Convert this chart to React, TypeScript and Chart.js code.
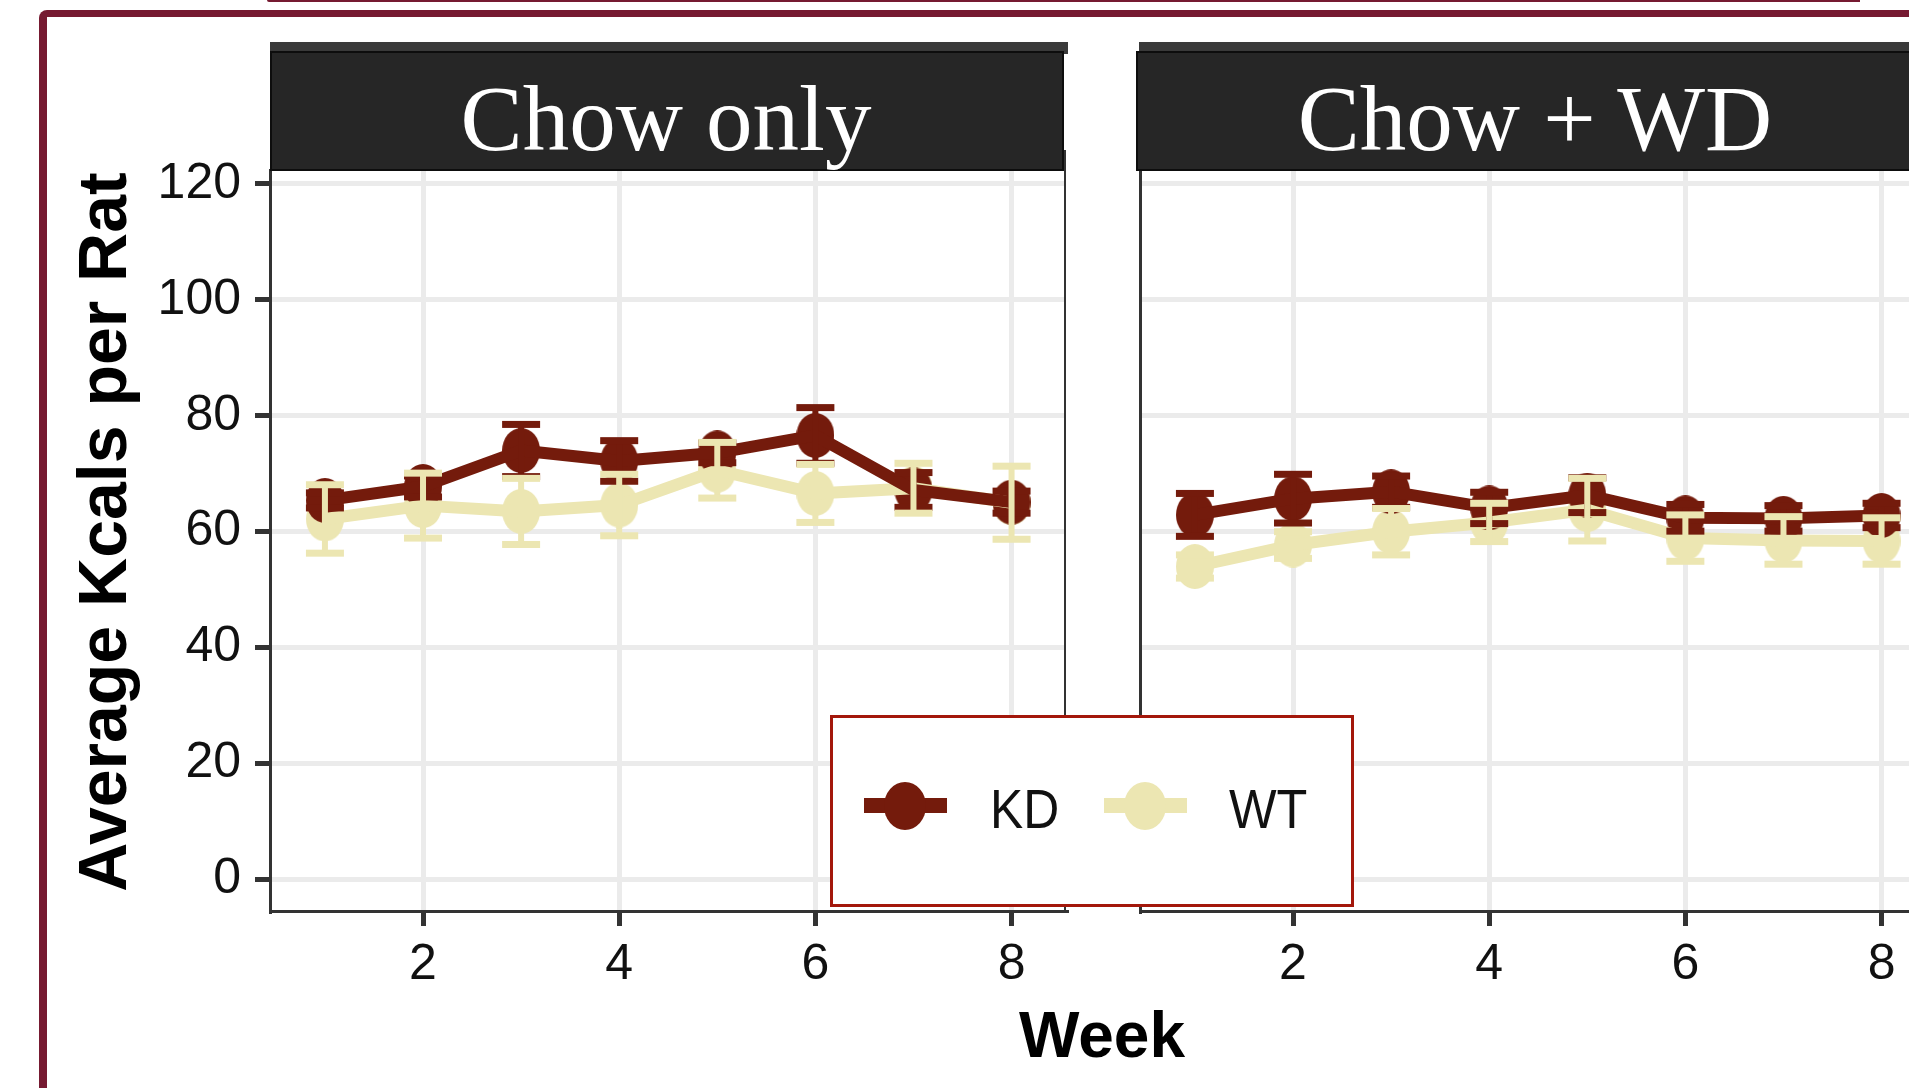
import React, { useEffect, useRef } from "react";
import { Chart, registerables } from "chart.js";

Chart.register(...registerables);

// ---------------- data ----------------
const weeks = [1, 2, 3, 4, 5, 6, 7, 8];

const chowKD = [65.4, 67.8, 74.0, 72.2, 73.6, 76.6, 67.2, 65.1];
const chowKDErr = [1.3, 1.8, 4.5, 3.5, 1.7, 4.8, 3.0, 1.9];
const chowWT = [62.2, 64.5, 63.5, 64.6, 70.6, 66.6, 67.5, 65.0];
const chowWTErr = [5.9, 5.6, 5.7, 5.3, 4.8, 5.0, 4.3, 6.3];

const wdKD = [62.9, 65.7, 66.9, 64.1, 66.3, 62.4, 62.3, 62.8];
const wdKDErr = [3.7, 4.2, 2.7, 2.7, 3.0, 2.3, 2.2, 2.1];
const wdWT = [54.0, 57.7, 60.0, 61.6, 63.8, 58.9, 58.5, 58.4];
const wdWTErr = [2.0, 2.3, 4.0, 3.3, 5.4, 4.0, 4.1, 4.0];

const yTicks = [0, 20, 40, 60, 80, 100, 120];
const xTicks = [2, 4, 6, 8];
const panelTitles = ["Chow only", "Chow + WD"];
const seriesNames = ["KD", "WT"];
const xTitle = "Week";
const yTitle = "Average Kcals per Rat";

// ---------------- styles ----------------
const KD_COLOR = "#741b0c";
const WT_COLOR = "#ece6b2";
const FRAME = "#761a31";
const SANS = '"Liberation Sans", Arial, Helvetica, sans-serif';
const SERIF = '"Liberation Serif", "Times New Roman", serif';

function ellipseCanvas(color: string, w: number, h: number) {
  const c = document.createElement("canvas");
  c.width = w;
  c.height = h;
  const ctx = c.getContext("2d")!;
  ctx.fillStyle = color;
  ctx.beginPath();
  ctx.ellipse(w / 2, h / 2, w / 2, h / 2, 0, 0, Math.PI * 2);
  ctx.fill();
  return c;
}

const errorBarPlugin = {
  id: "errorBars",
  afterDatasetsDraw(chart: any) {
    const { ctx, chartArea, scales } = chart;
    const x = scales.x;
    const y = scales.y;
    ctx.save();
    ctx.beginPath();
    ctx.rect(chartArea.left, chartArea.top, chartArea.right - chartArea.left, chartArea.bottom - chartArea.top);
    ctx.clip();
    chart.data.datasets.forEach((ds: any) => {
      if (!ds.errors) return;
      ctx.fillStyle = ds.errorColor;
      ds.data.forEach((p: any, i: number) => {
        const px = x.getPixelForValue(p.x);
        const top = y.getPixelForValue(p.y + ds.errors[i]);
        const bot = y.getPixelForValue(p.y - ds.errors[i]);
        ctx.fillRect(px - 3, top, 6, bot - top);
        ctx.fillRect(px - 19, top - 3.5, 38, 7);
        ctx.fillRect(px - 19, bot - 3.5, 38, 7);
      });
    });
    ctx.restore();
  },
};

const panelBorderPlugin = {
  id: "panelBorder",
  afterDraw(chart: any) {
    const { ctx, chartArea } = chart;
    ctx.save();
    ctx.strokeStyle = "#333333";
    ctx.lineWidth = 2;
    ctx.beginPath();
    ctx.moveTo(chartArea.right - 1, chartArea.top - 20);
    ctx.lineTo(chartArea.right - 1, chartArea.bottom);
    ctx.stroke();
    ctx.restore();
  },
};

type PanelProps = {
  left: number;
  width: number;
  padLeft: number;
  yWidth: number;
  showY: boolean;
  kd: number[];
  kdErr: number[];
  wt: number[];
  wtErr: number[];
};

const CANVAS_TOP = 130;
const CANVAS_H = 881;

function Panel(props: PanelProps) {
  const ref = useRef<HTMLCanvasElement>(null);
  useEffect(() => {
    const kdPts = weeks.map((w, i) => ({ x: w, y: props.kd[i] }));
    const wtPts = weeks.map((w, i) => ({ x: w, y: props.wt[i] }));
    const tickFont = { family: SANS, size: 50 };
    const chart = new Chart(ref.current!, {
      type: "line",
      data: {
        datasets: [
          {
            label: seriesNames[0],
            data: kdPts,
            borderColor: KD_COLOR,
            borderWidth: 12,
            pointRadius: 0,
            borderJoinStyle: "round",
            tension: 0,
          },
          {
            label: seriesNames[1],
            data: wtPts,
            borderColor: WT_COLOR,
            borderWidth: 12,
            pointRadius: 0,
            borderJoinStyle: "round",
            tension: 0,
          },
          {
            label: seriesNames[0] + " points",
            data: kdPts,
            showLine: false,
            pointStyle: ellipseCanvas(KD_COLOR, 38, 45),
            pointRadius: 20,
            backgroundColor: KD_COLOR,
            borderColor: KD_COLOR,
            errors: props.kdErr,
            errorColor: KD_COLOR,
          } as any,
          {
            label: seriesNames[1] + " points",
            data: wtPts,
            showLine: false,
            pointStyle: ellipseCanvas(WT_COLOR, 38, 45),
            pointRadius: 20,
            backgroundColor: WT_COLOR,
            borderColor: WT_COLOR,
            errors: props.wtErr,
            errorColor: WT_COLOR,
          } as any,
        ],
      },
      options: {
        responsive: false,
        animation: false,
        devicePixelRatio: 1,
        layout: { autoPadding: false, padding: { left: props.padLeft, right: 3, top: 40, bottom: 0 } },
        plugins: {
          legend: { display: false },
          tooltip: { enabled: false },
          title: { display: false },
        },
        scales: {
          x: {
            type: "linear",
            min: 0.44,
            max: 8.555,
            afterBuildTicks: (s: any) => {
              s.ticks = xTicks.map((v) => ({ value: v }));
            },
            afterFit: (s: any) => {
              s.height = 100;
              s.paddingLeft = 0;
              s.paddingRight = 0;
              s.paddingTop = 0;
              s.paddingBottom = 0;
            },
            grid: {
              color: "#ebebeb",
              lineWidth: 5,
              drawTicks: true,
              tickLength: 15,
              tickColor: "#333333",
              tickWidth: 5,
            },
            border: { color: "#333333", width: 3 },
            ticks: {
              color: "#111111",
              font: tickFont,
              padding: 9,
              maxRotation: 0,
              autoSkip: false,
              callback: (v: any) => String(v),
            },
          },
          y: {
            type: "linear",
            min: -5.4,
            max: 122.37,
            afterBuildTicks: (s: any) => {
              s.ticks = yTicks.map((v) => ({ value: v }));
            },
            afterFit: (s: any) => {
              s.width = props.yWidth;
              s.paddingLeft = 0;
              s.paddingRight = 0;
              s.paddingTop = 0;
              s.paddingBottom = 0;
            },
            grid: {
              color: "#ebebeb",
              lineWidth: 5,
              drawTicks: props.showY,
              tickLength: 15,
              tickColor: "#333333",
              tickWidth: 5,
            },
            border: { color: "#333333", width: 3 },
            ticks: {
              display: props.showY,
              color: "#111111",
              font: tickFont,
              padding: 14,
              autoSkip: false,
              callback: (v: any) => String(v),
            },
          },
        },
      } as any,
      plugins: [errorBarPlugin, panelBorderPlugin],
    });
    return () => chart.destroy();
  }, []);
  return (
    <canvas
      ref={ref}
      width={props.width}
      height={CANVAS_H}
      style={{ position: "absolute", left: props.left, top: CANVAS_TOP, width: props.width, height: CANVAS_H }}
    />
  );
}

function Strip({ left, width, bandLeft, textCenter, text }: { left: number; width: number; bandLeft: number; textCenter: number; text: string }) {
  return (
    <>
      <div style={{ position: "absolute", left: bandLeft, top: 41.7, width: width + (left - bandLeft) + 3.7, height: 12, background: "#3a3a3a" }} />
      <div
        style={{
          position: "absolute",
          left,
          top: 51,
          width,
          height: 120,
          background: "#262626",
          border: "2px solid #0d0d0d",
          boxSizing: "border-box",
        }}
      />
      <div
        style={{
          position: "absolute",
          left: textCenter - 450,
          width: 900,
          top: 72.1,
          textAlign: "center",
          fontFamily: SERIF,
          fontSize: 93,
          lineHeight: 1,
          color: "#ffffff",
          whiteSpace: "nowrap",
        }}
      >
        {text}
      </div>
    </>
  );
}

function LegendKey({ x1, x2, cx, color }: { x1: number; x2: number; cx: number; color: string }) {
  return (
    <>
      <div style={{ position: "absolute", left: x1, top: 798, width: x2 - x1, height: 15, background: color }} />
      <div
        style={{
          position: "absolute",
          left: cx - 21,
          top: 781.7,
          width: 42,
          height: 48,
          borderRadius: "50%",
          background: color,
        }}
      />
    </>
  );
}

export default function App() {
  return (
    <div
      style={{
        position: "fixed",
        left: 0,
        top: 0,
        width: 1909,
        height: 1088,
        overflow: "hidden",
        background: "#ffffff",
      }}
    >
      {/* top thin rule and outer frame */}
      <div style={{ position: "absolute", left: 267, top: 0, width: 1593, height: 2, background: FRAME, borderBottomLeftRadius: 2 }} />
      <div
        style={{
          position: "absolute",
          left: 39,
          top: 10,
          width: 1960,
          height: 1200,
          borderLeft: `8px solid ${FRAME}`,
          borderTop: `7px solid ${FRAME}`,
          borderTopLeftRadius: 8,
          boxSizing: "border-box",
        }}
      />

      <Panel left={50} width={1019} padLeft={0} yWidth={220} showY={true} kd={chowKD} kdErr={chowKDErr} wt={chowWT} wtErr={chowWTErr} />
      <Panel left={1130} width={809} padLeft={10} yWidth={0} showY={false} kd={wdKD} kdErr={wdKDErr} wt={wdWT} wtErr={wdWTErr} />

      <Strip left={270} width={794} bandLeft={269.5} textCenter={666} text={panelTitles[0]} />
      <Strip left={1135.7} width={820} bandLeft={1139.3} textCenter={1535} text={panelTitles[1]} />

      {/* y axis title */}
      <div
        style={{
          position: "absolute",
          left: 102.4 - 450,
          top: 532 - 34,
          width: 900,
          height: 68,
          lineHeight: "68px",
          textAlign: "center",
          fontFamily: SANS,
          fontWeight: "bold",
          fontSize: 68,
          color: "#000000",
          transform: "rotate(-90deg)",
          transformOrigin: "center center",
          whiteSpace: "nowrap",
        }}
      >
        {yTitle}
      </div>

      {/* x axis title */}
      <div
        style={{
          position: "absolute",
          left: 902,
          top: 1003,
          width: 400,
          textAlign: "center",
          fontFamily: SANS,
          fontWeight: "bold",
          fontSize: 64,
          lineHeight: 1,
          color: "#000000",
        }}
      >
        {xTitle}
      </div>

      {/* legend */}
      <div
        style={{
          position: "absolute",
          left: 830,
          top: 715,
          width: 524,
          height: 192,
          border: "3px solid #a3170b",
          background: "#ffffff",
          boxSizing: "border-box",
        }}
      />
      <LegendKey x1={864} x2={947} cx={905.4} color={KD_COLOR} />
      <LegendKey x1={1104} x2={1187} cx={1145} color={WT_COLOR} />
      <div
        style={{
          position: "absolute",
          left: 990,
          top: 780.6,
          fontFamily: SANS,
          fontSize: 56,
          lineHeight: 1,
          color: "#111111",
          transform: "scaleX(0.89)",
          transformOrigin: "left center",
          whiteSpace: "nowrap",
        }}
      >
        {seriesNames[0]}
      </div>
      <div
        style={{
          position: "absolute",
          left: 1229,
          top: 780.6,
          fontFamily: SANS,
          fontSize: 56,
          lineHeight: 1,
          color: "#111111",
          transform: "scaleX(0.9)",
          transformOrigin: "left center",
          whiteSpace: "nowrap",
        }}
      >
        {seriesNames[1]}
      </div>
    </div>
  );
}
